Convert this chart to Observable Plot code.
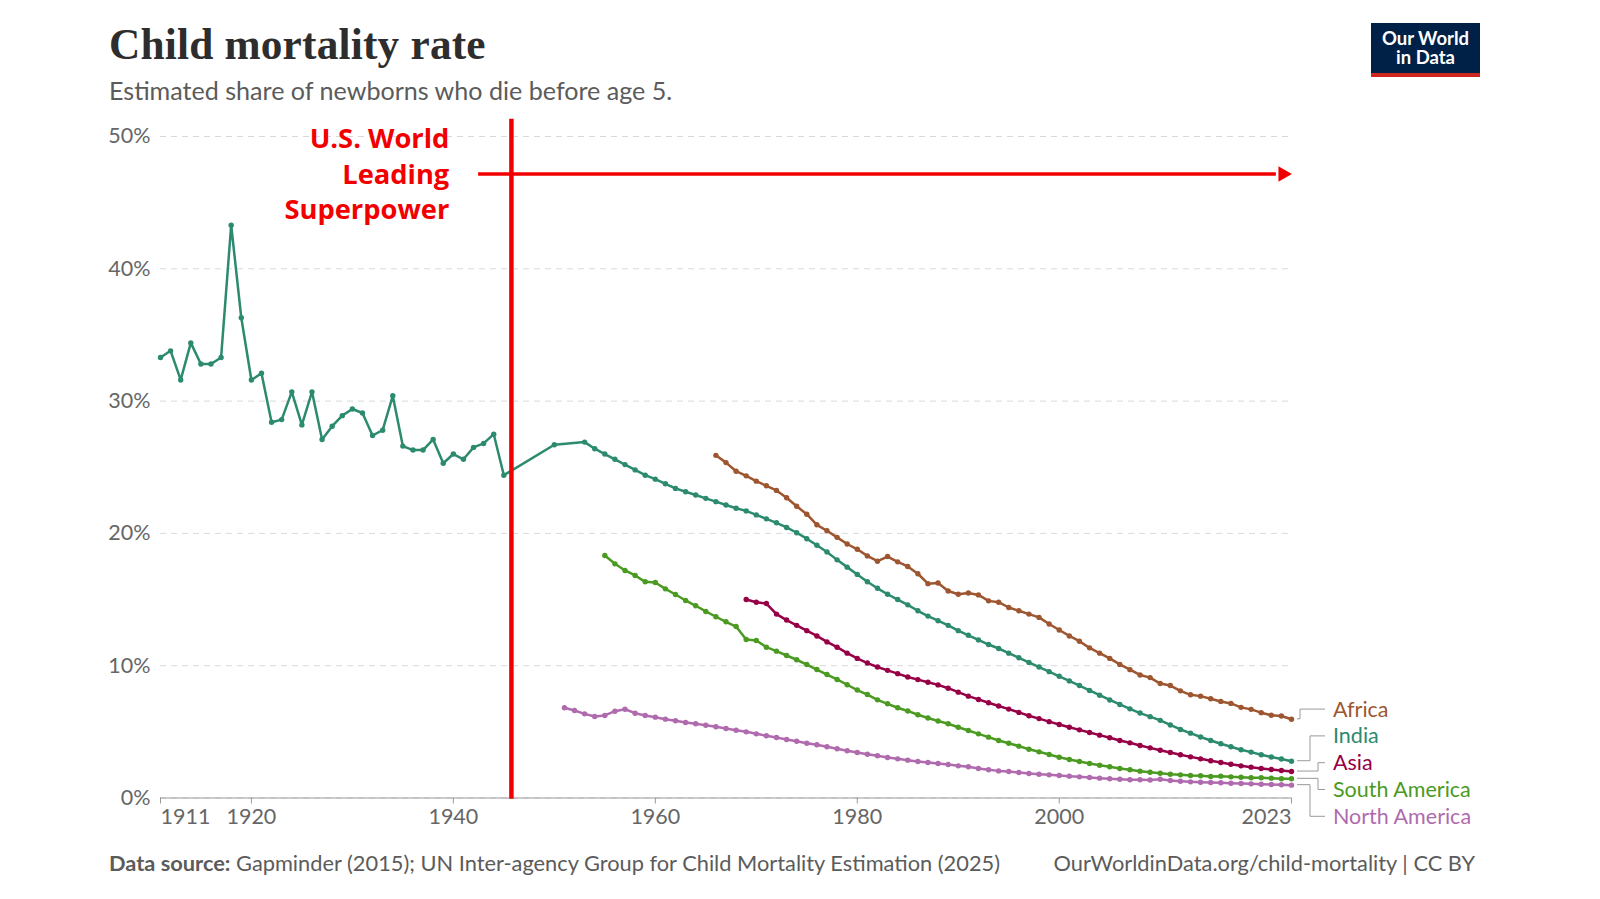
<!DOCTYPE html>
<html>
<head>
<meta charset="utf-8">
<script src="https://cdn.jsdelivr.net/npm/d3@7"></script>
<script src="https://cdn.jsdelivr.net/npm/@observablehq/plot@0.6"></script>
<style>
html,body{margin:0;padding:0;background:#fff;overflow:hidden;}
#wrap{position:relative;width:1600px;height:899px;font-family:Lato,"Noto Sans",sans-serif;}
#title{position:absolute;left:109px;top:23px;font-family:"Liberation Serif",serif;font-weight:700;font-size:43.3px;line-height:1;color:#2d2d2d;letter-spacing:0.2px;}
#subtitle{position:absolute;left:109px;top:78px;font-size:25.1px;line-height:1;color:#5b5b5b;}
#logo{position:absolute;left:1371px;top:23px;width:109px;height:50px;background:#002147;border-bottom:4px solid #ce261e;color:#fff;font-weight:700;font-size:18.5px;text-align:center;display:flex;flex-direction:column;align-items:center;justify-content:center;}
#logo div{line-height:19px;height:19px;}
#chart{position:absolute;left:0;top:100px;}
#footer-left{position:absolute;left:109px;top:852px;font-size:21.8px;line-height:1;color:#5b5b5b;}
#footer-right{position:absolute;right:125px;top:852px;font-size:21.8px;line-height:1;color:#5b5b5b;}
</style>
</head>
<body>
<div id="wrap">
  <div id="title">Child mortality rate</div>
  <div id="subtitle">Estimated share of newborns who die before age 5.</div>
  <div id="logo"><div>Our World</div><div>in Data</div></div>
  <div id="chart"></div>
  <div id="footer-left"><b>Data source:</b> Gapminder (2015); UN Inter-agency Group for Child Mortality Estimation (2025)</div>
  <div id="footer-right">OurWorldinData.org/child-mortality | CC BY</div>
</div>
<script>
// ---------- data (% of newborns) ----------
const indiaYears = [].concat(d3.range(1911, 1946), [1950, 1953], d3.range(1954, 2024));
const indiaValues = [
  33.3,33.8,31.6,34.4,32.8,32.8,33.3,43.3,36.3,31.6,
  32.1,28.4,28.6,30.7,28.2,30.7,27.1,28.1,28.9,29.4,
  29.1,27.4,27.8,30.4,26.6,26.3,26.3,27.1,25.3,26.0,
  25.6,26.5,26.8,27.5,24.4,
  26.7,26.9,
  26.4,26.0,25.6,25.2,24.8,24.4,24.1,23.75,23.4,23.15,
  22.9,22.65,22.4,22.15,21.9,21.7,21.4,21.1,20.8,20.45,
  20.05,19.6,19.1,18.6,18.0,17.45,16.9,16.35,15.85,15.4,
  15.0,14.6,14.15,13.75,13.4,13.05,12.65,12.3,11.95,11.6,
  11.3,10.95,10.6,10.25,9.9,9.55,9.2,8.85,8.5,8.13,
  7.77,7.41,7.07,6.74,6.42,6.15,5.87,5.52,5.18,4.9,
  4.61,4.35,4.1,3.87,3.65,3.47,3.27,3.1,2.95,2.78
];
const africaYears = d3.range(1966, 2024);
const africaValues = [
  25.9,25.35,24.7,24.35,23.95,23.6,23.25,22.7,22.05,21.45,
  20.65,20.2,19.7,19.2,18.8,18.3,17.9,18.25,17.85,17.5,
  16.95,16.2,16.25,15.65,15.4,15.5,15.35,14.9,14.8,14.4,
  14.15,13.9,13.65,13.15,12.7,12.25,11.85,11.35,10.95,10.55,
  10.1,9.7,9.3,9.1,8.65,8.5,8.1,7.8,7.7,7.5,
  7.3,7.15,6.85,6.7,6.45,6.25,6.2,5.95
];
const asiaYears = d3.range(1969, 2024);
const asiaValues = [
  15.0,14.8,14.7,13.9,13.45,13.05,12.65,12.25,11.8,11.4,
  10.95,10.55,10.2,9.9,9.65,9.4,9.15,8.95,8.75,8.55,
  8.3,8.0,7.7,7.45,7.2,6.95,6.72,6.47,6.22,6.0,
  5.77,5.56,5.35,5.15,4.95,4.75,4.55,4.35,4.17,3.97,
  3.79,3.61,3.44,3.27,3.11,2.96,2.81,2.68,2.55,2.43,
  2.33,2.23,2.15,2.08,2.0
];
const southAmericaYears = d3.range(1955, 2024);
const southAmericaValues = [
  18.33,17.7,17.2,16.82,16.34,16.29,15.81,15.38,14.93,14.53,
  14.1,13.7,13.32,12.96,11.98,11.9,11.4,11.1,10.77,10.45,
  10.09,9.71,9.33,8.96,8.56,8.16,7.82,7.42,7.12,6.82,
  6.58,6.29,6.05,5.82,5.61,5.35,
  5.1,4.85,4.6,4.35,4.14,3.92,3.69,3.49,3.29,3.08,
  2.91,2.76,2.61,2.48,2.36,2.23,2.13,2.03,1.95,1.87,
  1.8,1.75,1.7,1.68,1.63,1.65,1.6,1.57,1.53,1.53,
  1.5,1.45,1.45
];
const northAmericaYears = d3.range(1951, 2024);
const northAmericaValues = [
  6.82,6.61,6.36,6.16,6.24,6.56,6.71,
  6.41,6.24,6.11,5.96,5.84,5.71,5.61,5.5,5.38,5.25,
  5.12,5.0,4.85,4.7,4.57,4.42,4.29,4.14,4.02,3.87,
  3.72,3.57,3.44,3.31,3.19,3.06,2.96,2.86,2.76,2.68,
  2.61,2.53,2.43,
  2.36,2.23,2.13,2.05,2.0,1.93,1.85,1.8,1.75,1.7,
  1.65,1.6,1.55,1.5,1.45,1.42,1.38,1.38,1.36,1.42,
  1.32,1.27,1.22,1.19,1.17,1.15,1.12,1.1,1.07,1.04,
  1.02,1.0,0.97
];
const entityNames = ["Africa", "India", "Asia", "South America", "North America"];
const entityColors = ["#9d5630", "#2c8a6e", "#970046", "#4b9a22", "#b06aae"];

const xTicksStart = [1911];
const xTicksMiddle = [1920, 1940, 1960, 1980, 2000];
const xTicksEnd = [2023];
const yTicks = [0, 10, 20, 30, 40, 50];

// annotation (data units)
const usLineYear = [1945.75];
const usLineSpan = [-0.1, 51.3];
const usArrow = [{x1: 1942.5, x2: 2021.5, y: 47.17}];
const usArrowHead = [{x: 2022.15, y: 47.17}];
const usLabel = [{x: 1939.6, y: 47.17, text: "U.S. World\nLeading\nSuperpower"}];

// ---------- build ----------
const seriesList = [
  {name: "Africa", years: africaYears, values: africaValues},
  {name: "India", years: indiaYears, values: indiaValues},
  {name: "Asia", years: asiaYears, values: asiaValues},
  {name: "South America", years: southAmericaYears, values: southAmericaValues},
  {name: "North America", years: northAmericaYears, values: northAmericaValues}
];
const rows = seriesList.flatMap(s => s.years.map((yr, i) => ({entity: s.name, year: yr, value: s.values[i]})));

const RED = "#f20000";
const axisCommon = {tickSize: 6, tickPadding: 5, label: null, stroke: "#999", fill: "#666", fontSize: 21.5};

const plot = Plot.plot({
  width: 1600,
  height: 740,
  marginLeft: 160,
  marginRight: 309,
  marginTop: 36,
  marginBottom: 42.5,
  x: {domain: [1911, 2023]},
  y: {domain: [0, 50]},
  color: {domain: entityNames, range: entityColors},
  style: {fontFamily: "Lato, 'Noto Sans', sans-serif", fontSize: "21.5px", color: "#666", background: "transparent", overflow: "visible"},
  marks: [
    Plot.gridY(yTicks, {stroke: "#d9d9d9", strokeOpacity: 1, strokeDasharray: "6,5", strokeWidth: 1}),
    Plot.axisY(yTicks, {tickSize: 0, tickPadding: 10, tickFormat: d => d + "%", label: null, fill: "#666", fontSize: 21.5}),
    Plot.axisX(xTicksStart, {...axisCommon, textAnchor: "start", tickFormat: d => String(d)}),
    Plot.axisX(xTicksMiddle, {...axisCommon, tickFormat: d => String(d)}),
    Plot.axisX(xTicksEnd, {...axisCommon, textAnchor: "end", tickFormat: d => String(d)}),
    Plot.ruleY([0], {stroke: "#999", strokeWidth: 1.2}),
    Plot.line(rows, {x: "year", y: "value", z: "entity", stroke: "entity", strokeWidth: 2.5}),
    Plot.dot(rows, {x: "year", y: "value", fill: "entity", r: 2.7}),
    Plot.ruleX(usLineYear, {y1: usLineSpan[0], y2: usLineSpan[1], stroke: RED, strokeWidth: 4.5}),
    Plot.ruleY(usArrow, {x1: "x1", x2: "x2", y: "y", stroke: RED, strokeWidth: 3.5}),
    Plot.dot(usArrowHead, {x: "x", y: "y", symbol: "triangle", rotate: 90, r: 5.8, fill: RED, stroke: "none"}),
    Plot.text(usLabel, {x: "x", y: "y", text: "text", textAnchor: "end", lineAnchor: "middle", lineHeight: 1.3, dy: -1.5,
      fontSize: 27.3, fontWeight: 700, fill: RED, fontFamily: "'Open Sans', 'Noto Sans', sans-serif"})
  ]
});
document.getElementById("chart").appendChild(plot);

// ---------- end labels with connectors ----------
const xs = plot.scale("x"), ys = plot.scale("y");
const xEnd = xs.apply(2023);
const ends = seriesList.map((s, i) => ({name: s.name, color: entityColors[i], y: ys.apply(s.values[s.values.length - 1])}));
ends.sort((a, b) => a.y - b.y);
const spacing = 26.8;
const meanY = d3.mean(ends, d => d.y);
ends.forEach((d, i) => { d.ly = meanY - (ends.length - 1) / 2 * spacing + i * spacing; });
const elbowOffsets = {"Africa": 9, "India": 19, "Asia": 27, "South America": 27, "North America": 19};
const svg = d3.select(plot);
const g = svg.append("g").attr("text-anchor", "start");
ends.forEach(d => {
  const ex = xEnd + elbowOffsets[d.name];
  g.append("path")
    .attr("d", `M${xEnd + 6},${d.y}H${ex}V${d.ly}H${xEnd + 34}`)
    .attr("fill", "none").attr("stroke", "#9a9a9a").attr("stroke-width", 1);
  g.append("text")
    .attr("x", xEnd + 42).attr("y", d.ly).attr("dy", "0.35em")
    .attr("text-anchor", "start")
    .attr("fill", d.color).attr("font-size", 21.5)
    .attr("font-family", "Lato, 'Noto Sans', sans-serif")
    .text(d.name);
});
</script>
</body>
</html>
